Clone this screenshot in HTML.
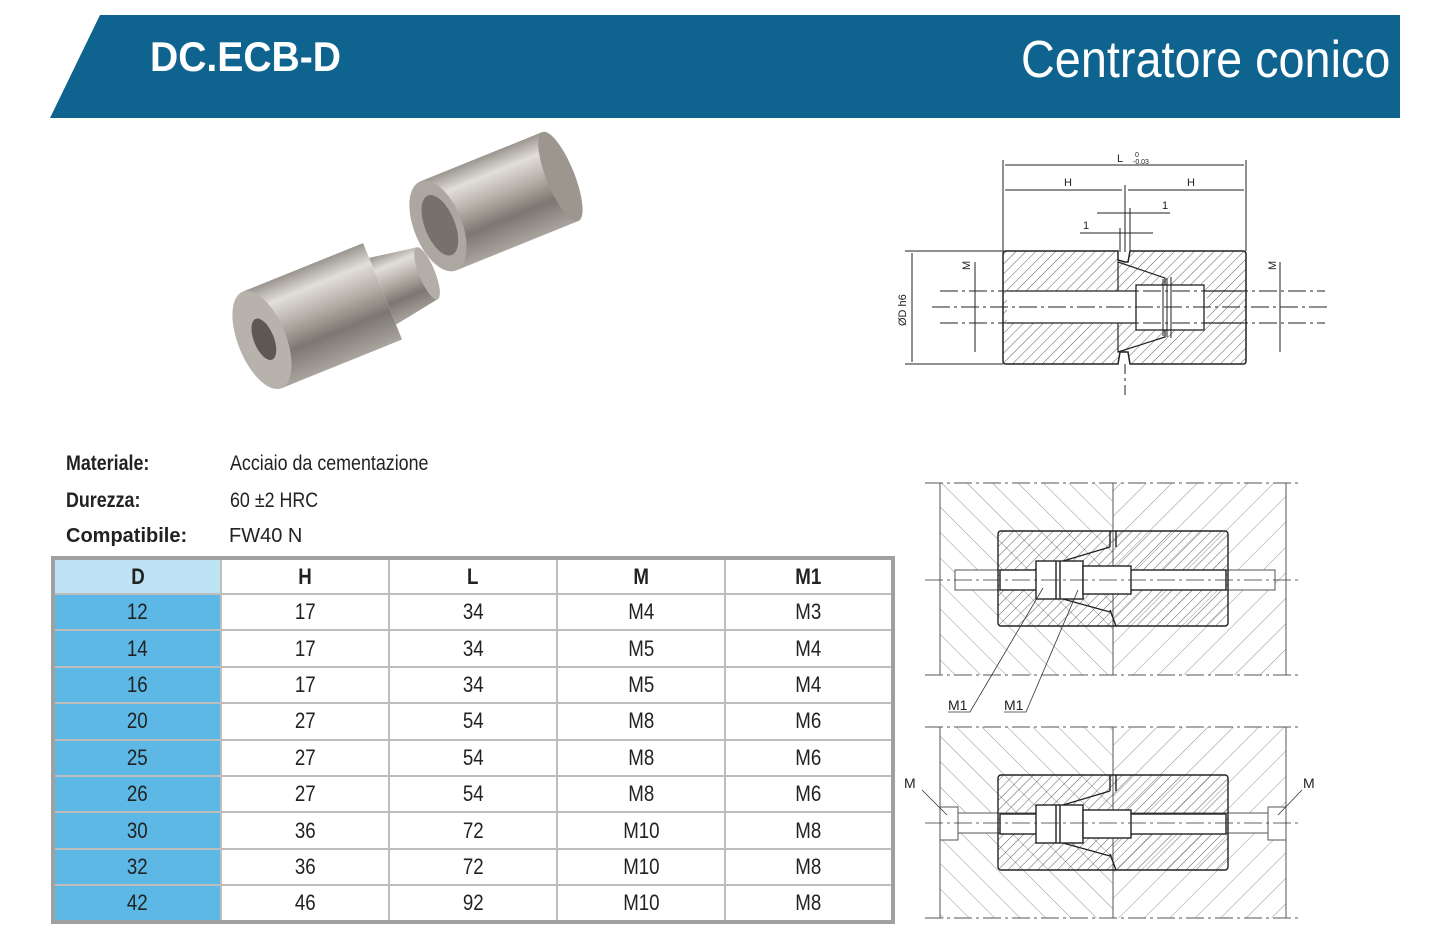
<!DOCTYPE html>
<html><head><meta charset="utf-8"><style>
body{margin:0;width:1445px;height:944px;background:#fff;position:relative;font-family:"Liberation Sans",sans-serif;overflow:hidden}
.t{position:absolute;font-family:"Liberation Sans",sans-serif;transform-origin:0 0}
table{position:absolute;left:51px;top:556px;border-collapse:collapse;border:4px solid #a0a0a0;table-layout:fixed;width:844px}
td{border:2px solid #bdbdbd;height:36.4px;box-sizing:border-box;text-align:center;font-size:22px;color:#222;padding:0}
td span{display:inline-block;transform:scaleX(.85)}
tr.h td{font-weight:bold;height:36px}
td.d{background:#5db8e6}
tr.h td.d{background:#bde3f5}
</style></head><body>
<svg width="1445" height="944" style="position:absolute;left:0;top:0">
<defs>
<pattern id="h1" width="7" height="7" patternUnits="userSpaceOnUse" patternTransform="rotate(45)"><line x1="0" y1="0" x2="0" y2="7" stroke="#333" stroke-width=".8"/></pattern>
<pattern id="h2" width="18" height="18" patternUnits="userSpaceOnUse" patternTransform="rotate(45)"><line x1="0" y1="0" x2="0" y2="18" stroke="#777" stroke-width=".8"/></pattern>
<pattern id="h3" width="18" height="18" patternUnits="userSpaceOnUse" patternTransform="rotate(-45)"><line x1="0" y1="0" x2="0" y2="18" stroke="#777" stroke-width=".8"/></pattern>
<linearGradient id="met" x1="0" y1="0" x2="0" y2="1"><stop offset="0" stop-color="#9a958f"/><stop offset=".2" stop-color="#e2ded9"/><stop offset=".45" stop-color="#b3ada6"/><stop offset=".7" stop-color="#7d7771"/><stop offset="1" stop-color="#aaa49e"/></linearGradient>
</defs>
<polygon points="100,15 1400,15 1400,118 50,118" fill="#0f648f"/>
<g transform="translate(438,226) rotate(-22)">
<rect x="0" y="-48" width="132" height="96" fill="url(#met)"/>
<ellipse cx="132" cy="0" rx="14" ry="48" fill="#9c968f"/>
<ellipse cx="0" cy="0" rx="24" ry="48" fill="#aca7a0"/>
<ellipse cx="2" cy="0" rx="15" ry="32" fill="#77716b"/>
</g>
<g transform="translate(262,340) rotate(-22)">
<polygon points="130,-36 178,-28 178,28 130,36" fill="url(#met)"/>
<ellipse cx="178" cy="0" rx="8" ry="28" fill="#b4aea8"/>
<rect x="0" y="-52" width="130" height="104" fill="url(#met)"/>
<ellipse cx="0" cy="0" rx="24" ry="52" fill="#b8b2ac"/>
<ellipse cx="2" cy="0" rx="10" ry="22" fill="#5d5853"/>
</g>
<g stroke="#222" fill="none" stroke-width="1">
<line x1="1003" y1="160" x2="1003" y2="251"/><line x1="1246" y1="160" x2="1246" y2="251"/>
<line x1="1005" y1="165" x2="1244" y2="165"/><line x1="1005" y1="190" x2="1122" y2="190"/><line x1="1128" y1="190" x2="1244" y2="190"/>
<line x1="1125" y1="185" x2="1125" y2="252"/><line x1="1097" y1="213" x2="1170" y2="213"/><line x1="1080" y1="233" x2="1153" y2="233"/>
<line x1="1120" y1="228" x2="1120" y2="252"/><line x1="1130" y1="208" x2="1130" y2="252"/>
<line x1="905" y1="251" x2="1003" y2="251"/><line x1="905" y1="364" x2="1003" y2="364"/><line x1="912" y1="253" x2="912" y2="362"/>
<path d="M1003,254 Q1003,251 1006,251 L1118,251 L1118,260 L1125,262 L1128,262 L1130,251 L1243,251 Q1246,251 1246,254 L1246,361 Q1246,364 1243,364 L1130,364 L1128,352 L1120,352 L1118,364 L1006,364 Q1003,364 1003,361Z" fill="url(#h1)" stroke-width="1.5"/>
<polygon points="1118,262 1165,278 1165,337 1118,352" fill="none" stroke-width="1.2"/>
<rect x="1007" y="291" width="200" height="32" fill="#fff" stroke="none"/>
<rect x="1136" y="285" width="68" height="45" fill="#fff" stroke-width="1.3"/>
<line x1="1007" y1="291" x2="1136" y2="291" stroke-width="1.3"/><line x1="1007" y1="323" x2="1136" y2="323" stroke-width="1.3"/>
<line x1="1204" y1="291" x2="1242" y2="291" stroke-width="1.3"/><line x1="1204" y1="323" x2="1242" y2="323" stroke-width="1.3"/>
<line x1="1163" y1="279" x2="1163" y2="336"/><line x1="1167" y1="278" x2="1167" y2="337"/><line x1="1171" y1="277" x2="1171" y2="338"/>
<line x1="932" y1="307" x2="1330" y2="307" stroke-dasharray="18,4,3,4"/>
<line x1="940" y1="291" x2="1325" y2="291" stroke-dasharray="18,4,3,4"/><line x1="940" y1="323" x2="1325" y2="323" stroke-dasharray="18,4,3,4"/>
<line x1="975" y1="262" x2="975" y2="352"/><line x1="1280" y1="262" x2="1280" y2="352"/>
<line x1="1125" y1="364" x2="1125" y2="397" stroke-dasharray="10,4,3,4"/>
</g>
<g fill="#222" font-size="11" font-family="Liberation Sans">
<text x="1117" y="162">L</text><text x="1133" y="164" font-size="7">-0.03</text><text x="1135" y="157" font-size="7">0</text>
<text x="1064" y="186">H</text><text x="1187" y="186">H</text><text x="1162" y="209">1</text><text x="1083" y="229">1</text>
<text transform="translate(906,326) rotate(-90)">ØD h6</text><text transform="translate(970,270) rotate(-90)">M</text><text transform="translate(1276,270) rotate(-90)">M</text>
</g>
<g stroke="#555" stroke-width="1" fill="none">
<rect x="940" y="483" width="173" height="192" fill="url(#h3)" stroke="none"/><rect x="1113" y="483" width="173" height="192" fill="url(#h2)" stroke="none"/>
<rect x="940" y="727" width="173" height="191" fill="url(#h3)" stroke="none"/><rect x="1113" y="727" width="173" height="191" fill="url(#h2)" stroke="none"/>
<line x1="925" y1="483" x2="1300" y2="483" stroke-dasharray="18,4,3,4"/><line x1="925" y1="675" x2="1300" y2="675" stroke-dasharray="18,4,3,4"/>
<line x1="925" y1="727" x2="1300" y2="727" stroke-dasharray="18,4,3,4"/><line x1="925" y1="918" x2="1300" y2="918" stroke-dasharray="18,4,3,4"/>
<line x1="940" y1="483" x2="940" y2="675"/><line x1="1286" y1="483" x2="1286" y2="675"/><line x1="1113" y1="483" x2="1113" y2="675"/>
<line x1="940" y1="727" x2="940" y2="918"/><line x1="1286" y1="727" x2="1286" y2="918"/><line x1="1113" y1="727" x2="1113" y2="918"/>
<rect x="955" y="570" width="320" height="20" fill="#fff"/>
<rect x="940" y="807" width="18" height="33" fill="#fff"/><rect x="1268" y="807" width="18" height="33" fill="#fff"/>
<rect x="958" y="813" width="310" height="20" fill="#fff"/>
</g>
<g id="b1" stroke="#222" stroke-width="1.4">
<rect x="998" y="531" width="230" height="95" rx="3" fill="url(#h1)"/>
<rect x="1000" y="570" width="226" height="20" fill="#fff"/>
<rect x="1036" y="561" width="47" height="38" fill="#fff"/>
<rect x="1083" y="566" width="48" height="28" fill="#fff"/>
<line x1="1110" y1="531" x2="1110" y2="547"/><line x1="1116" y1="531" x2="1116" y2="547"/><line x1="1110" y1="610" x2="1116" y2="626"/>
<line x1="1063" y1="561" x2="1110" y2="547"/><line x1="1063" y1="599" x2="1110" y2="612"/>
<line x1="1056" y1="561" x2="1056" y2="599"/><line x1="1060" y1="561" x2="1060" y2="599"/>
</g>
<use href="#b1" y="244"/>
<g stroke="#333" fill="none" stroke-width=".8">
<line x1="925" y1="580" x2="1300" y2="580" stroke-dasharray="18,4,3,4"/><line x1="925" y1="823" x2="1300" y2="823" stroke-dasharray="18,4,3,4"/>
<polyline points="948,712 970,712 1043,588"/><polyline points="1004,712 1026,712 1078,590"/>
<line x1="922" y1="790" x2="947" y2="815"/><line x1="1302" y1="790" x2="1278" y2="815"/>
</g>
<g fill="#222" font-size="14" font-family="Liberation Sans">
<text x="948" y="710">M1</text><text x="1004" y="710">M1</text><text x="904" y="788">M</text><text x="1303" y="788">M</text>
</g>
</svg>
<div class="t" style="left:150px;top:33px;font-size:42px;font-weight:bold;color:#fff;transform:scaleX(.93)">DC.ECB-D</div>
<div class="t" style="left:1021px;top:30px;font-size:52px;color:#fff;transform:scaleX(.9)">Centratore conico</div>
<div class="t" style="left:66px;top:452px;font-size:21px;font-weight:bold;color:#222;transform:scaleX(.85)">Materiale:</div>
<div class="t" style="left:230px;top:452px;font-size:21px;color:#222;transform:scaleX(.85)">Acciaio da cementazione</div>
<div class="t" style="left:66px;top:489px;font-size:21px;font-weight:bold;color:#222;transform:scaleX(.85)">Durezza:</div>
<div class="t" style="left:230px;top:489px;font-size:21px;color:#222;transform:scaleX(.85)">60 ±2 HRC</div>
<div class="t" style="left:66px;top:525px;font-size:20px;font-weight:bold;color:#222">Compatibile:</div>
<div class="t" style="left:229px;top:525px;font-size:20px;color:#222">FW40 N</div>
<table>
<tr class="h"><td class="d"><span>D</span></td><td><span>H</span></td><td><span>L</span></td><td><span>M</span></td><td><span>M1</span></td></tr>
<tr><td class="d"><span>12</span></td><td><span>17</span></td><td><span>34</span></td><td><span>M4</span></td><td><span>M3</span></td></tr>
<tr><td class="d"><span>14</span></td><td><span>17</span></td><td><span>34</span></td><td><span>M5</span></td><td><span>M4</span></td></tr>
<tr><td class="d"><span>16</span></td><td><span>17</span></td><td><span>34</span></td><td><span>M5</span></td><td><span>M4</span></td></tr>
<tr><td class="d"><span>20</span></td><td><span>27</span></td><td><span>54</span></td><td><span>M8</span></td><td><span>M6</span></td></tr>
<tr><td class="d"><span>25</span></td><td><span>27</span></td><td><span>54</span></td><td><span>M8</span></td><td><span>M6</span></td></tr>
<tr><td class="d"><span>26</span></td><td><span>27</span></td><td><span>54</span></td><td><span>M8</span></td><td><span>M6</span></td></tr>
<tr><td class="d"><span>30</span></td><td><span>36</span></td><td><span>72</span></td><td><span>M10</span></td><td><span>M8</span></td></tr>
<tr><td class="d"><span>32</span></td><td><span>36</span></td><td><span>72</span></td><td><span>M10</span></td><td><span>M8</span></td></tr>
<tr><td class="d"><span>42</span></td><td><span>46</span></td><td><span>92</span></td><td><span>M10</span></td><td><span>M8</span></td></tr>
</table>
</body></html>
